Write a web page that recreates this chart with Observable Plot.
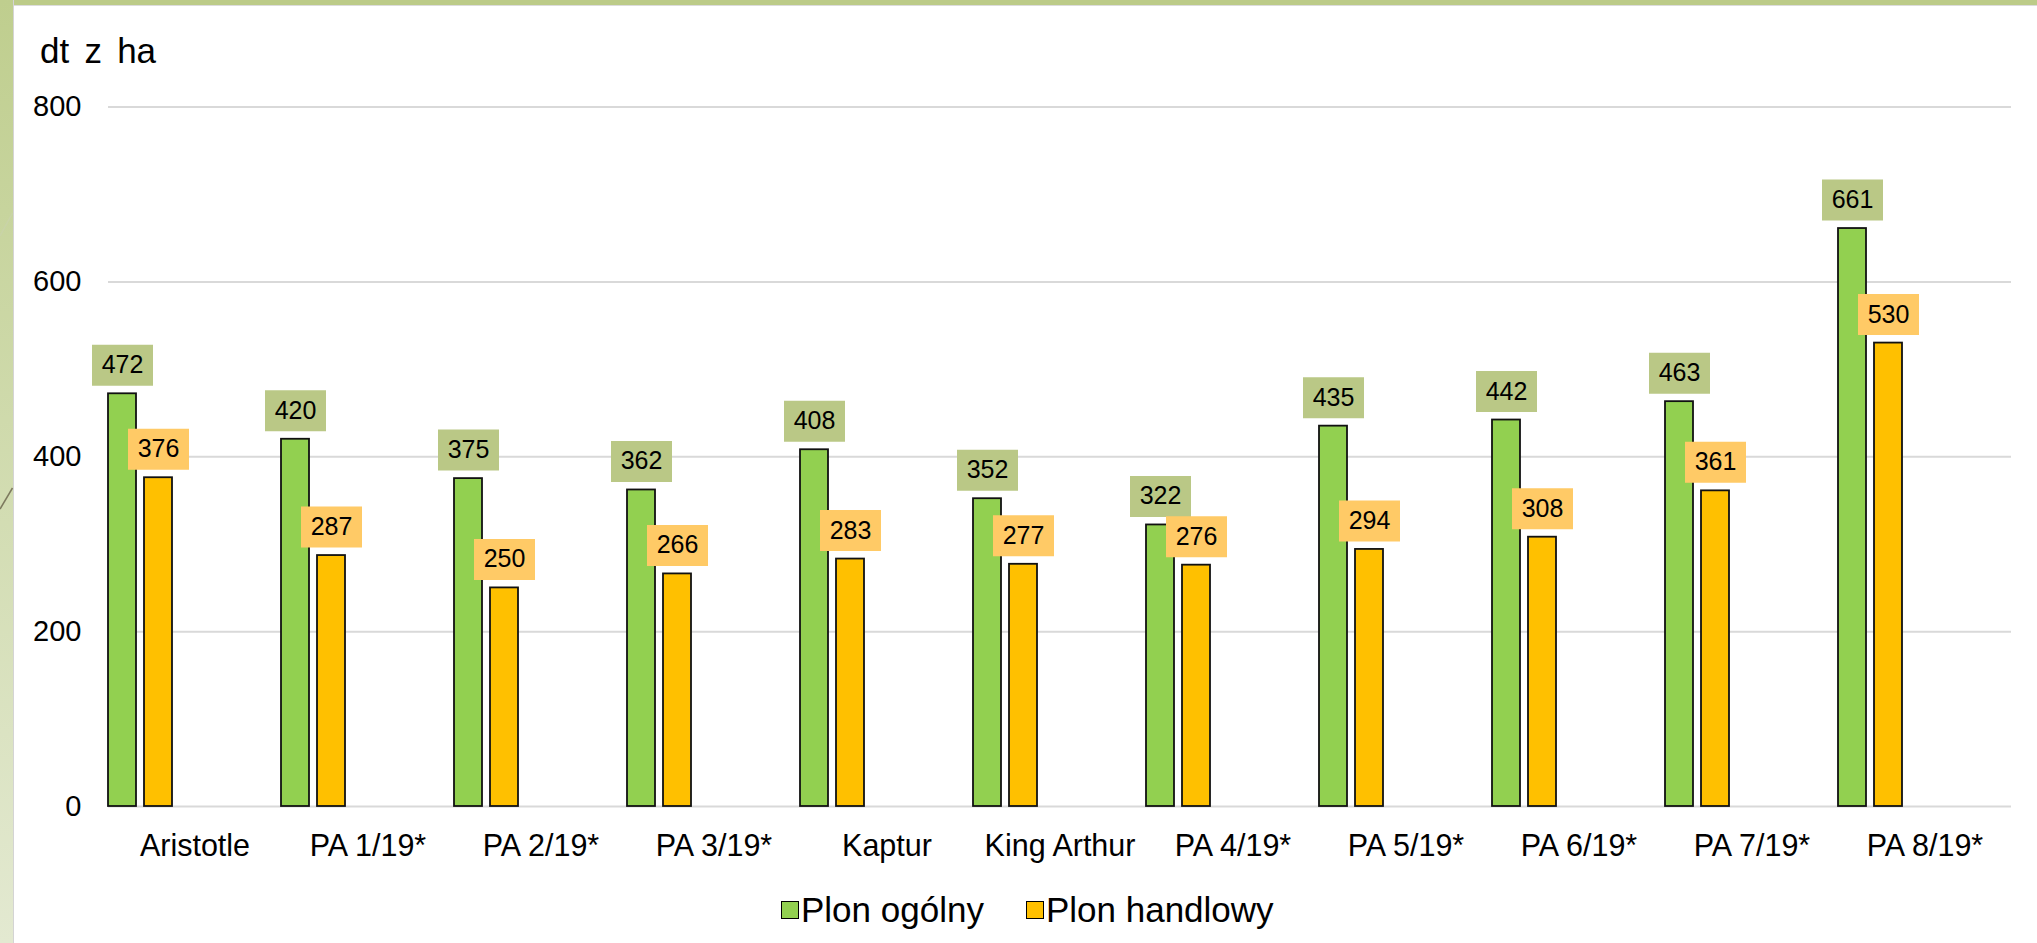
<!DOCTYPE html>
<html>
<head>
<meta charset="utf-8">
<script src="https://cdn.jsdelivr.net/npm/d3@7"></script>
<script src="https://cdn.jsdelivr.net/npm/@observablehq/plot@0.6"></script>
<style>
  html, body { margin: 0; padding: 0; }
  body { width: 2037px; height: 943px; position: relative; overflow: hidden; background: #ffffff; font-family: "Liberation Sans", Arial, sans-serif; }
  #topstrip { position: absolute; left: 0; top: 0; width: 2037px; height: 5px; background: #bccb88; border-bottom: 1.5px solid #dcdcdc; }
  #leftstrip { position: absolute; left: 0; top: 0; width: 13px; height: 943px; background: linear-gradient(#bfce8e, #e3e9d1); border-right: 1.8px solid #d4d4d4; }
  #deco { position: absolute; left: 0; top: 0; }
  #title { position: absolute; left: 40px; top: 33px; font-size: 35px; word-spacing: 5.5px; line-height: 1; color: #000; }
  #chart { position: absolute; left: 0; top: 0; }
  #legend { position: absolute; left: 781px; top: 892px; display: flex; align-items: center; font-size: 35px; line-height: 1; color: #000; }
  .item { display: flex; align-items: center; }
  .item + .item { margin-left: 42px; }
  .sw { width: 16px; height: 16px; border: 1.7px solid #000; margin-right: 2px; }
</style>
</head>
<body>
<div id="topstrip"></div>
<div id="leftstrip"></div>
<svg id="deco" width="14" height="943">
  <line x1="12.5" y1="213" x2="0" y2="236" stroke="#c9d3a8" stroke-width="1.5"/>
  <line x1="12.5" y1="488" x2="0" y2="509" stroke="#7d7a5e" stroke-width="1.5"/>
</svg>
<div id="title">dt z ha</div>
<div id="chart"></div>
<div id="legend"></div>
<script>
const categories = ["Aristotle", "PA 1/19*", "PA 2/19*", "PA 3/19*", "Kaptur", "King Arthur", "PA 4/19*", "PA 5/19*", "PA 6/19*", "PA 7/19*", "PA 8/19*"];
const plonOgolny = [472, 420, 375, 362, 408, 352, 322, 435, 442, 463, 661];
const plonHandlowy = [376, 287, 250, 266, 283, 277, 276, 294, 308, 361, 530];
const seriesNames = ["Plon ogólny", "Plon handlowy"];
const seriesColors = ["#92d050", "#ffc000"];
const labelColors = ["#bac886", "#ffca66"];
const yTicks = [0, 200, 400, 600, 800];

const data = categories.flatMap((c, i) => [
  {cat: c, series: seriesNames[0], value: plonOgolny[i]},
  {cat: c, series: seriesNames[1], value: plonHandlowy[i]}
]);

const boxSymbol = {
  draw(ctx) { ctx.rect(-30.5, -20.5, 61, 41); }
};

const chart = Plot.plot({
  width: 2037,
  height: 943,
  marginLeft: 107,
  marginRight: 26,
  marginTop: 106.5,
  marginBottom: 137,
  style: {background: "transparent", fontFamily: "'Liberation Sans', Arial, sans-serif", color: "#000", overflow: "visible"},
  fx: {domain: categories, padding: 0, label: null},
  x: {domain: seriesNames, paddingInner: 0.22, paddingOuter: 1.494, align: 0, axis: null},
  y: {domain: [0, 800], label: null},
  color: {domain: seriesNames, range: seriesColors},
  marks: [
    Plot.ruleY(yTicks, {stroke: "#d9d9d9", strokeWidth: 2}),
    Plot.axisY({ticks: yTicks, tickSize: 0, tickPadding: 27, fontSize: 29, label: null, fill: "#000"}),
    Plot.axisFx({anchor: "bottom", tickSize: 0, tickPadding: 28, fontSize: 30.5, label: null, fill: "#000"}),
    Plot.barY(data, {fx: "cat", x: "series", y: "value", fill: "series", stroke: "#111", strokeWidth: 1.8}),
    Plot.dot(data.filter(d => d.series === seriesNames[0]), {fx: "cat", x: "series", y: "value", symbol: boxSymbol, r: 10, fill: labelColors[0], stroke: "none", dy: -28.5}),
    Plot.dot(data.filter(d => d.series === seriesNames[1]), {fx: "cat", x: "series", y: "value", symbol: boxSymbol, r: 10, fill: labelColors[1], stroke: "none", dy: -28.5}),
    Plot.text(data, {fx: "cat", x: "series", y: "value", text: d => String(d.value), dy: -28.5, fontSize: 25, fill: "#000"})
  ]
});
document.getElementById("chart").appendChild(chart);

const legend = document.getElementById("legend");
seriesNames.forEach((name, i) => {
  const item = document.createElement("div");
  item.className = "item";
  const sw = document.createElement("div");
  sw.className = "sw";
  sw.style.background = seriesColors[i];
  const t = document.createElement("span");
  t.textContent = name;
  item.appendChild(sw);
  item.appendChild(t);
  legend.appendChild(item);
});
</script>
</body>
</html>
